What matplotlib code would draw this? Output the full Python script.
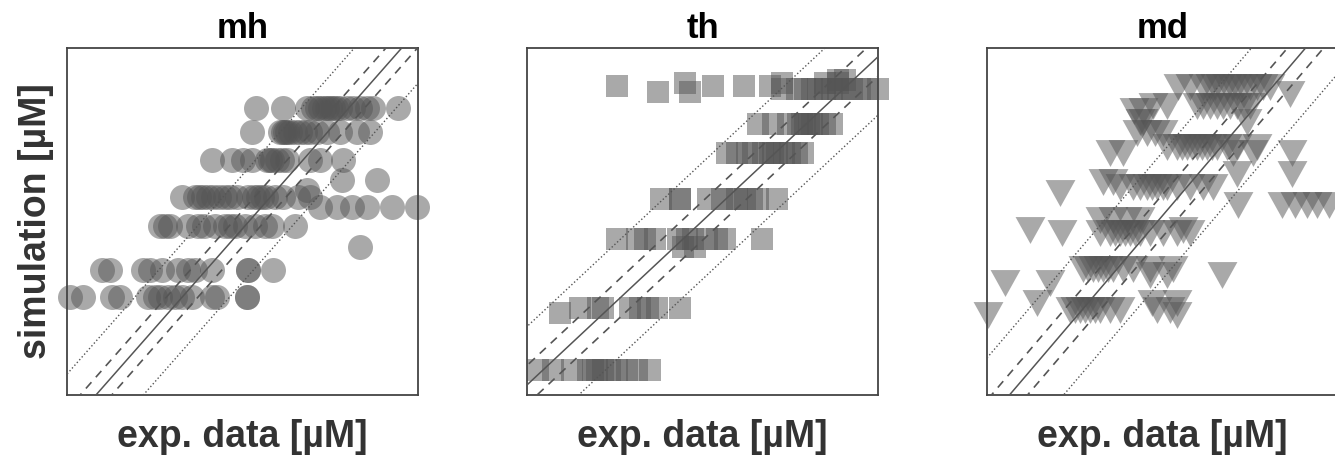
import numpy as np
import matplotlib.pyplot as plt

plt.rcParams['font.family'] = ['Liberation Sans', 'DejaVu Sans']

# log10 concentrations
# each tuple: (simulation value, [exp. data values at that level])
mh_rows = [
    (5.35, [3.59, 4.10, 4.56, 4.67, 4.75, 4.81, 4.88, 4.94, 5.00, 5.05, 5.12, 5.19, 5.32, 5.43, 5.57, 5.70, 5.81, 6.29]),
    (4.95, [3.52, 4.05, 4.10, 4.14, 4.19, 4.24, 4.33, 4.43, 4.52, 4.62, 4.75, 4.94, 5.19, 5.51, 5.76]),
    (4.48, [2.76, 3.14, 3.34, 3.52, 3.80, 3.85, 3.90, 3.99, 4.09, 4.18, 4.62, 4.81, 5.24]),
    (4.15, [5.23, 5.89]),
    (3.98, [4.56]),
    (3.86, [2.19, 2.43, 2.50, 2.58, 2.68, 2.77, 2.88, 3.00, 3.10, 3.23, 3.44, 3.55, 3.63, 3.70, 3.78, 3.95, 4.10, 4.39, 4.62]),
    (3.70, [4.81, 5.13, 5.42, 5.70, 6.18, 6.65]),
    (3.38, [1.77, 1.86, 1.96, 2.30, 2.49, 2.60, 2.81, 3.00, 3.10, 3.19, 3.38, 3.57, 3.76, 3.90, 4.33]),
    (3.03, [5.57]),
    (2.64, [0.67, 0.82, 1.44, 1.58, 1.81, 2.11, 2.30, 2.43, 2.76, 3.44, 3.44, 3.91]),
    (2.19, [0.06, 0.30, 0.86, 1.01, 1.54, 1.67, 1.77, 1.92, 2.05, 2.19, 2.38, 2.76, 2.85, 3.42, 3.42]),
]

th_rows = [
    (4.61, [1.30, 2.68, 3.13, 3.50]),
    (4.52, [1.89, 2.35]),
    (4.66, [2.28, 3.68, 4.30, 4.48]),
    (4.57, [3.68, 3.89, 4.01, 4.11, 4.20, 4.30, 4.40, 4.48, 4.59, 4.69, 4.80, 4.90, 5.06]),
    (4.70, [4.48, 4.59]),
    (4.02, [3.33, 3.55, 3.76, 3.91, 3.96, 4.01, 4.06, 4.11, 4.20, 4.30, 4.40]),
    (3.58, [2.88, 3.03, 3.17, 3.26, 3.40, 3.50, 3.55, 3.61, 3.71, 3.79, 3.89, 3.98]),
    (2.87, [1.93, 2.21, 2.21, 2.61, 2.81, 2.93, 3.03, 3.14, 3.24, 3.33, 3.61]),
    (2.25, [1.30, 1.59, 1.70, 1.85, 2.18, 2.31, 2.39, 2.60, 2.74, 2.86, 3.39]),
    (2.13, [2.25, 2.42]),
    (1.19, [0.76, 1.02, 1.10, 1.49, 1.63, 1.74, 1.87, 2.21]),
    (1.11, [0.48]),
    (0.23, [0.16, 0.37, 0.65, 0.88, 0.95, 1.01, 1.10, 1.20, 1.30, 1.44, 1.59, 1.77]),
]

md_rows = [
    (4.74, [3.18, 3.38, 3.59, 3.71, 3.80, 3.88, 3.99, 4.07, 4.16, 4.26, 4.38, 4.49, 4.59, 4.71]),
    (4.64, [5.04]),
    (4.47, [2.76, 3.00, 3.49, 3.60, 3.71, 3.82, 3.93, 4.05, 4.16, 4.27, 4.38]),
    (4.40, [2.45, 2.60]),
    (4.25, [2.55, 2.60, 4.33]),
    (4.10, [2.50, 2.66, 2.80, 2.93]),
    (3.90, [3.00, 3.16, 3.25, 3.33, 3.41, 3.49, 3.58, 3.66, 3.75, 3.83, 3.99, 4.16, 4.49]),
    (3.81, [2.05, 2.26, 4.09, 4.42, 5.08]),
    (3.51, [4.16, 5.08]),
    (3.40, [1.93, 2.10]),
    (3.32, [2.21, 2.43, 2.55, 2.66, 2.75, 2.83, 2.92, 3.00, 3.16, 3.38, 3.59, 3.76]),
    (3.24, [1.21]),
    (3.07, [4.18, 4.91, 5.13, 5.32, 5.49, 5.69]),
    (2.86, [1.88, 2.10, 2.33, 2.55]),
    (2.72, [0.72, 3.26]),
    (2.68, [1.25, 1.88, 2.05, 2.13, 2.21, 2.30, 2.38, 2.47, 2.55, 2.71, 2.93, 3.16, 3.38]),
    (2.16, [1.60, 1.68, 1.76, 1.85, 1.93, 2.02, 2.10, 2.26, 2.43, 2.71, 3.10]),
    (2.08, [2.71, 3.00, 3.91]),
    (1.97, [0.30, 1.05]),
    (1.68, [0.83, 2.75, 3.16]),
    (1.58, [1.38, 1.46, 1.55, 1.63, 1.71, 1.80, 1.88, 2.05, 2.21, 2.83, 3.05]),
    (1.51, [0.02, 3.16]),
]

titles = ['mh', 'th', 'md']
all_rows = [mh_rows, th_rows, md_rows]
xlims = [(0, 6.67), (0, 5.06), (0, 5.84)]
ylims = [(0.55, 6.36), (-0.155, 5.195), (0.374, 5.30)]

tri = [(-1, 0.9), (1, 0.9), (0, -0.9)]
markers = ['o', 's', tri]
msizes = [18, 15.5, 21.5]

# fold-change guide lines (log10 offsets)
guides = [(0.0, '-'), (0.3, '--'), (-0.3, '--'), (0.9, ':'), (-0.9, ':')]

fig = plt.figure(figsize=(13.35, 4.55), dpi=100)
lefts = [67, 527, 987]

for i in range(3):
    ax = fig.add_axes([lefts[i] / 1335, 60 / 455, 351 / 1335, 347 / 455])
    xs = []
    ys = []
    for sim, exps in all_rows[i]:
        xs += exps
        ys += [sim] * len(exps)
    ax.plot(xs, ys, ls='none', marker=markers[i], ms=msizes[i], color='#555555',
            alpha=0.5, mew=0, clip_on=False, zorder=2)
    xx = np.array([-2, 9])
    for off, ls in guides:
        if ls == '--':
            ax.plot(xx, xx + off, color='#555555', lw=1.2, dashes=(5, 4), zorder=3)
        elif ls == ':':
            ax.plot(xx, xx + off, color='#555555', lw=1.0, ls=':', zorder=3)
        else:
            ax.plot(xx, xx + off, color='#555555', lw=1.1, zorder=3)
    ax.set_xlim(xlims[i])
    ax.set_ylim(ylims[i])
    ax.set_xticks([])
    ax.set_yticks([])
    for sp in ax.spines.values():
        sp.set_linewidth(1.3)
        sp.set_color('#444444')
    ax.set_title(titles[i], fontsize=25, fontweight='bold', pad=7)
    ax.set_xlabel('exp. data [µM]', fontsize=27, fontweight='bold', color='#333333', labelpad=17)
    if i == 0:
        ax.set_ylabel('simulation [µM]', fontsize=27, fontweight='bold', color='#333333', labelpad=9)

fig.savefig('out.png', dpi=100)
